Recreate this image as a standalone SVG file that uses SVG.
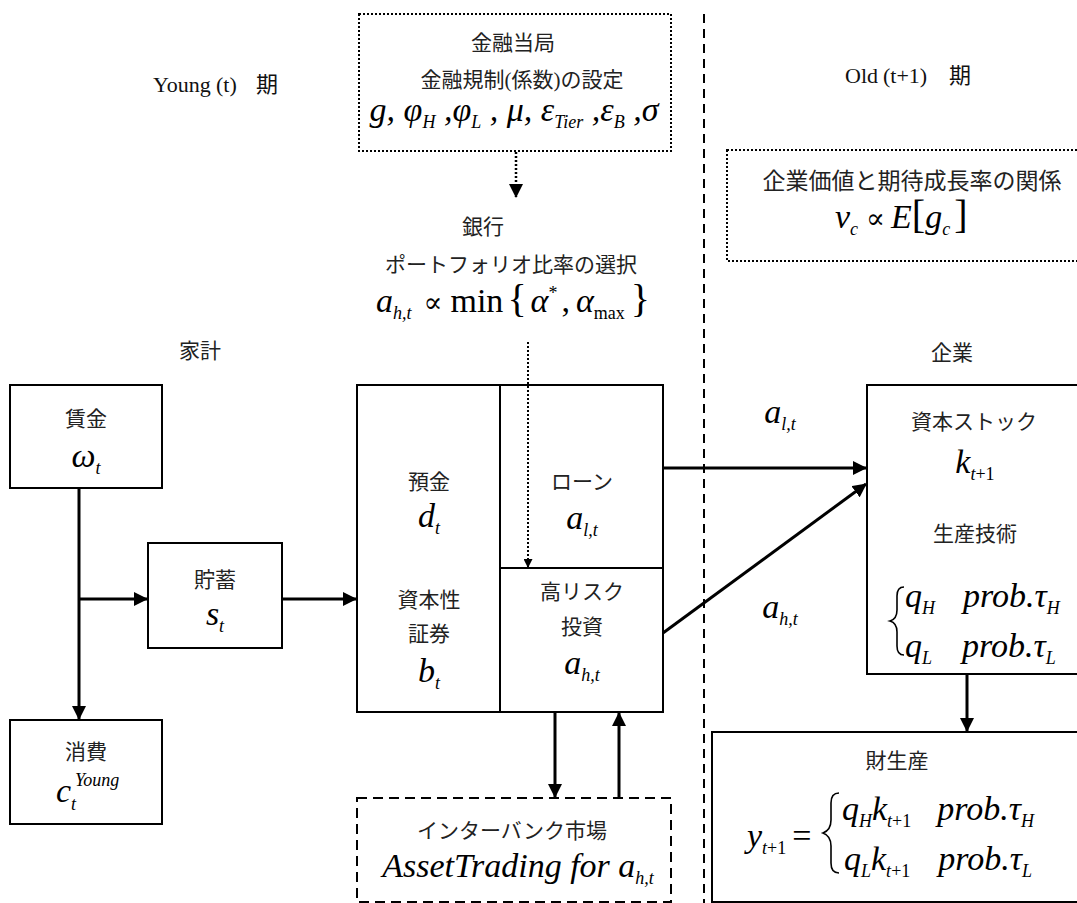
<svg xmlns="http://www.w3.org/2000/svg" width="1077" height="903" viewBox="0 0 1077 903">
<style>
.jp{font-family:"Liberation Serif","Noto Sans CJK JP",serif;font-size:21px;fill:#222;text-anchor:middle}
.lab{font-family:"Liberation Serif","Noto Sans CJK JP",serif;font-size:22px;fill:#111}
.m{font-family:"Liberation Serif",serif;font-style:italic;font-size:34px;fill:#000;text-anchor:middle}
.st{text-anchor:start}
.s{font-size:18px}
.u{font-style:normal}
.pr{font-family:"DejaVu Serif",serif;font-style:normal;font-size:28px}
.box{fill:#fff;stroke:#000;stroke-width:2}
.dot{fill:#fff;stroke:#000;stroke-width:2;stroke-dasharray:2 2}
.dash{fill:#fff;stroke:#000;stroke-width:2;stroke-dasharray:10 6}
.ln{stroke:#000;stroke-width:3;fill:none}
.br{fill:none;stroke:#000;stroke-width:1.6}
</style>
<defs>
<marker id="ah" markerWidth="9" markerHeight="9" refX="8" refY="4.5" orient="auto" markerUnits="userSpaceOnUse" viewBox="0 0 9 9"><path d="M0,0 L9,4.5 L0,9 z" fill="#000"/></marker>
<marker id="ahb" markerWidth="14" markerHeight="14" refX="13" refY="7" orient="auto" markerUnits="userSpaceOnUse" viewBox="0 0 14 14"><path d="M0,0 L14,7 L0,14 z" fill="#000"/></marker>
</defs>
<rect width="1077" height="903" fill="#fff"/>
<line x1="704" y1="14" x2="704" y2="903" stroke="#000" stroke-width="2" stroke-dasharray="9 6"/>
<text class="lab" y="92"><tspan x="153">Young</tspan><tspan x="216">(t)</tspan><tspan x="256">期</tspan></text>
<text class="lab" y="83"><tspan x="845">Old</tspan><tspan x="883">(t+1)</tspan><tspan x="949">期</tspan></text>
<text class="jp" x="200" y="358">家計</text>
<text class="jp" x="952" y="360">企業</text>
<g id="authority">
<rect class="dot" x="359" y="14" width="312" height="137"/>
<text class="jp" x="513" y="50">金融当局</text>
<text class="jp" x="522" y="87">金融規制(係数)の設定</text>
<text class="m" x="514" y="121">g, φ<tspan class="s" dy="7">H</tspan><tspan dy="-7"> ,φ</tspan><tspan class="s" dy="7">L</tspan><tspan dy="-7"> , μ, ε</tspan><tspan class="s" dy="7">Tier</tspan><tspan dy="-7"> ,ε</tspan><tspan class="s" dy="7">B</tspan><tspan dy="-7"> ,σ</tspan></text>
</g>
<g id="bank-label">
<text class="jp" x="483" y="234">銀行</text>
<text class="jp" x="511" y="272">ポートフォリオ比率の選択</text>
<text class="m st" x="376" y="312">a<tspan class="s" dy="7">h,t</tspan><tspan class="pr" dx="12" dy="-7">∝</tspan><tspan class="u" dx="8">min</tspan><tspan class="u" dx="4" style="font-size:40px">{</tspan><tspan dx="4">α</tspan><tspan class="s u" dy="-13">*</tspan><tspan class="u" dx="4" dy="13">,</tspan><tspan dx="6">α</tspan><tspan class="s u" dy="7">max</tspan><tspan class="u" dx="6" dy="-7" style="font-size:40px">}</tspan></text>
</g>
<g id="firm-value">
<rect class="dot" x="727" y="150" width="360" height="111"/>
<text class="jp" x="912" y="189" style="font-size:23px">企業価値と期待成長率の関係</text>
<text class="m st" x="835" y="228">v<tspan class="s" dy="7">c</tspan><tspan class="pr" dx="8" dy="-7">∝</tspan><tspan dx="6">E</tspan><tspan class="u" style="font-size:40px">[</tspan>g<tspan class="s" dy="7">c</tspan><tspan class="u" dx="4" dy="-7" style="font-size:40px">]</tspan></text>
</g>
<g id="wage">
<rect class="box" x="10" y="385" width="152" height="103"/>
<text class="jp" x="86" y="426">賃金</text>
<text class="m" x="86" y="467">ω<tspan class="s" dy="7">t</tspan></text>
</g>
<g id="saving">
<rect class="box" x="148" y="543" width="134" height="105"/>
<text class="jp" x="215" y="587">貯蓄</text>
<text class="m" x="215" y="625">s<tspan class="s" dy="7">t</tspan></text>
</g>
<g id="consumption">
<rect class="box" x="10" y="720" width="152" height="104"/>
<text class="jp" x="86" y="759">消費</text>
<text class="m st" x="56" y="802">c</text>
<text class="m st s" x="71" y="810">t</text>
<text class="m st s" x="75" y="786">Young</text>
</g>
<g id="bank">
<rect class="box" x="357" y="385" width="306" height="327"/>
<line x1="500" y1="385" x2="500" y2="712" stroke="#000" stroke-width="2"/>
<line x1="500" y1="568" x2="663" y2="568" stroke="#000" stroke-width="2"/>
<text class="jp" x="429" y="489">預金</text>
<text class="m" x="429" y="527">d<tspan class="s" dy="7">t</tspan></text>
<text class="jp" x="429" y="607">資本性</text>
<text class="jp" x="429" y="641">証券</text>
<text class="m" x="429" y="682">b<tspan class="s" dy="7">t</tspan></text>
<text class="jp" x="582" y="489">ローン</text>
<text class="m" x="582" y="529">a<tspan class="s" dy="7">l,t</tspan></text>
<text class="jp" x="582" y="599">高リスク</text>
<text class="jp" x="582" y="634">投資</text>
<text class="m" x="582" y="674">a<tspan class="s" dy="7">h,t</tspan></text>
</g>
<g id="interbank">
<rect class="dash" x="357" y="798" width="314" height="104"/>
<text class="jp" x="512" y="838">インターバンク市場</text>
<text class="m" x="518" y="877">AssetTrading  for a<tspan class="s" dy="7">h,t</tspan></text>
</g>
<g id="capital">
<rect class="box" x="867" y="385" width="220" height="289"/>
<text class="jp" x="974" y="429">資本ストック</text>
<text class="m" x="975" y="473">k<tspan class="s" dy="7">t</tspan><tspan class="s u">+1</tspan></text>
<text class="jp" x="975" y="541">生産技術</text>
<path class="br" d="M904,587 q-7,0 -7,9 v14 q0,9 -7,11 q7,2 7,11 v14 q0,9 7,9"/>
<text class="m st" x="905" y="607">q<tspan class="s" dy="7">H</tspan><tspan dx="28" dy="-7">prob.τ</tspan><tspan class="s" dy="7">H</tspan></text>
<text class="m st" x="905" y="657">q<tspan class="s" dy="7">L</tspan><tspan dx="30" dy="-7">prob.τ</tspan><tspan class="s" dy="7">L</tspan></text>
</g>
<g id="output">
<rect class="box" x="712" y="732" width="375" height="170"/>
<text class="jp" x="897" y="768">財生産</text>
<text class="m st" x="747" y="847">y<tspan class="s" dy="7">t</tspan><tspan class="s u">+1</tspan><tspan class="u" dx="6" dy="-7">=</tspan></text>
<path class="br" d="M839,793 q-8,0 -8,10 v17 q0,10 -8,13 q8,3 8,13 v17 q0,10 8,10"/>
<text class="m st" x="842" y="820">q<tspan class="s" dy="7">H</tspan><tspan dy="-7">k</tspan><tspan class="s" dy="7">t</tspan><tspan class="s u">+1</tspan><tspan dx="26" dy="-7">prob.τ</tspan><tspan class="s" dy="7">H</tspan></text>
<text class="m st" x="844" y="870">q<tspan class="s" dy="7">L</tspan><tspan dy="-7">k</tspan><tspan class="s" dy="7">t</tspan><tspan class="s u">+1</tspan><tspan dx="28" dy="-7">prob.τ</tspan><tspan class="s" dy="7">L</tspan></text>
</g>
<text class="m" x="780" y="423">a<tspan class="s" dy="7">l,t</tspan></text>
<text class="m" x="780" y="618">a<tspan class="s" dy="7">h,t</tspan></text>
<g id="connectors">
<line x1="516" y1="152" x2="516" y2="197" stroke="#000" stroke-width="2.5" stroke-dasharray="2 2" marker-end="url(#ahb)"/>
<line x1="528" y1="342" x2="528" y2="567" stroke="#000" stroke-width="2" stroke-dasharray="2 2" marker-end="url(#ah)"/>
<line class="ln" x1="79" y1="488" x2="79" y2="719" marker-end="url(#ahb)"/>
<line class="ln" x1="79" y1="599" x2="147" y2="599" marker-end="url(#ahb)"/>
<line class="ln" x1="282" y1="599" x2="356" y2="599" marker-end="url(#ahb)"/>
<line class="ln" x1="663" y1="468" x2="866" y2="468" marker-end="url(#ahb)"/>
<line class="ln" x1="663" y1="633" x2="866" y2="484" marker-end="url(#ahb)"/>
<line class="ln" x1="555" y1="712" x2="555" y2="797" marker-end="url(#ahb)"/>
<line class="ln" x1="619" y1="798" x2="619" y2="713" marker-end="url(#ahb)"/>
<line class="ln" x1="967" y1="674" x2="967" y2="731" marker-end="url(#ahb)"/>
</g>
</svg>
